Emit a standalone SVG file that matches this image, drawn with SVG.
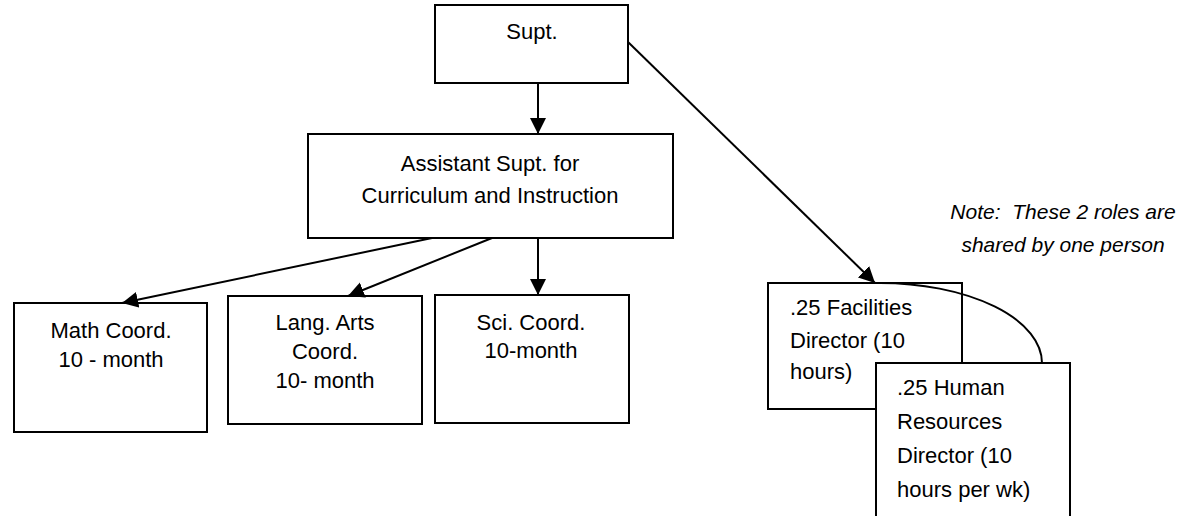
<svg xmlns="http://www.w3.org/2000/svg" width="1183" height="516" viewBox="0 0 1183 516">
<style>
.box{fill:#fff;stroke:#000;stroke-width:2}
.t{font-family:"Liberation Sans",Arial,sans-serif;font-size:22px;fill:#000}
.c{text-anchor:middle}
.note{font-family:"Liberation Sans",Arial,sans-serif;font-size:21px;font-style:italic;text-anchor:middle;fill:#000;white-space:pre}
.conn{fill:none;stroke:#000;stroke-width:2}
</style>
<defs>
<marker id="ah" markerUnits="userSpaceOnUse" markerWidth="17" markerHeight="17" refX="16" refY="8" orient="auto">
<path d="M0,0 L16,8 L0,16 z" fill="#000"/>
</marker>
</defs>
<rect width="1183" height="516" fill="#fff"/>
<g id="supt">
<rect class="box" x="435" y="5" width="193" height="78"/>
<text class="t c" x="532" y="39">Supt.</text>
</g>
<g id="asst">
<rect class="box" x="308" y="134" width="365" height="104"/>
<text class="t c" x="490" y="171">Assistant Supt. for</text>
<text class="t c" x="490" y="203">Curriculum and Instruction</text>
</g>
<g id="math">
<rect class="box" x="14" y="303" width="193" height="129"/>
<text class="t c" x="111" y="338">Math Coord.</text>
<text class="t c" x="111" y="367">10 - month</text>
</g>
<g id="lang">
<rect class="box" x="228" y="296" width="194" height="128"/>
<text class="t c" x="325" y="330">Lang. Arts</text>
<text class="t c" x="325" y="359">Coord.</text>
<text class="t c" x="325" y="388">10- month</text>
</g>
<g id="sci">
<rect class="box" x="435" y="295" width="194" height="128"/>
<text class="t c" x="531" y="330">Sci. Coord.</text>
<text class="t c" x="531" y="358">10-month</text>
</g>
<g id="facilities">
<rect class="box" x="768" y="283" width="194" height="126"/>
<text class="t" x="790" y="315">.25 Facilities</text>
<text class="t" x="790" y="348">Director (10</text>
<text class="t" x="790" y="379">hours)</text>
</g>
<g id="hr">
<rect class="box" x="876" y="363" width="194" height="170"/>
<text class="t" x="897" y="395">.25 Human</text>
<text class="t" x="897" y="429">Resources</text>
<text class="t" x="897" y="463">Director (10</text>
<text class="t" x="897" y="497">hours per wk)</text>
</g>
<g id="note">
<text class="note" x="1063" y="219" xml:space="preserve">Note:  These 2 roles are</text>
<text class="note" x="1063" y="252">shared by one person</text>
</g>
<g id="connectors">
<line class="conn" x1="538" y1="83" x2="538" y2="134" marker-end="url(#ah)"/>
<line class="conn" x1="628" y1="42" x2="875" y2="283" marker-end="url(#ah)"/>
<line class="conn" x1="432" y1="238" x2="122" y2="303" marker-end="url(#ah)"/>
<line class="conn" x1="492" y1="238" x2="348" y2="296" marker-end="url(#ah)"/>
<line class="conn" x1="538" y1="238" x2="538" y2="295" marker-end="url(#ah)"/>
<path class="conn" d="M880,283 A162,80 0 0 1 1042,363"/>
</g>
</svg>
